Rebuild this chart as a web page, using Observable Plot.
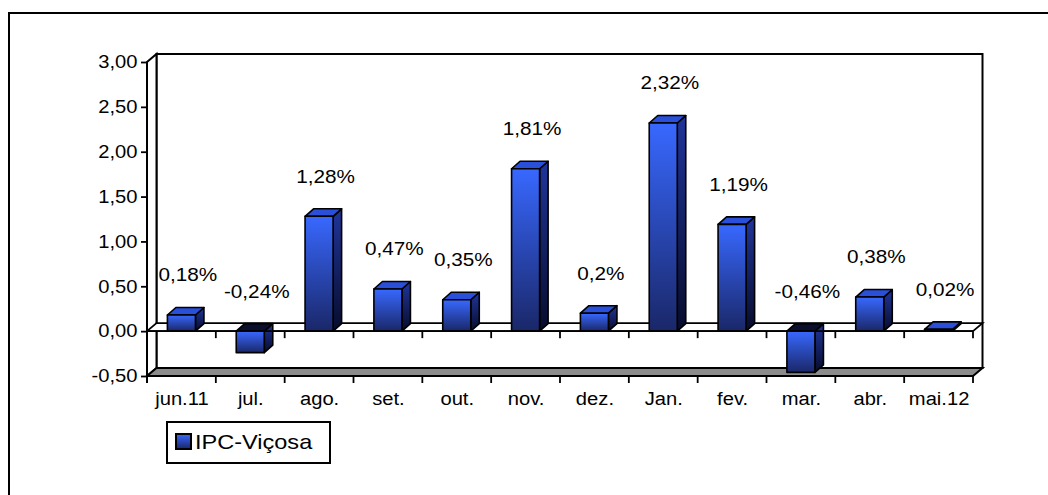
<!DOCTYPE html>
<html><head><meta charset="utf-8">
<script src="https://cdn.jsdelivr.net/npm/d3@7"></script>
<script src="https://cdn.jsdelivr.net/npm/@observablehq/plot@0.6"></script>
<style>
html,body{margin:0;padding:0;background:#fff;overflow:hidden;}
#wrap{position:relative;width:1048px;height:495px;overflow:hidden;font-family:Arial,"Liberation Sans",sans-serif;}
#frame{position:absolute;left:8px;top:12px;width:1100px;height:600px;border:2px solid #000;box-sizing:border-box;pointer-events:none;}
#chart{position:absolute;left:0;top:0;}
#legend{position:absolute;left:166px;top:421px;width:165px;height:43px;border:2px solid #000;box-sizing:border-box;background:#fff;}
#legend svg{position:absolute;left:7px;top:10px;}
#legend span{position:absolute;left:27px;top:7px;font-size:21px;line-height:24px;white-space:nowrap;transform:scaleX(1.12);transform-origin:0 50%;}
</style></head><body>
<div id="wrap"><div id="chart"></div><div id="legend"></div><div id="frame"></div></div>
<script>
const months = ["jun.11","jul.","ago.","set.","out.","nov.","dez.","Jan.","fev.","mar.","abr.","mai.12"];
const values = [0.18,-0.24,1.28,0.47,0.35,1.81,0.2,2.32,1.19,-0.46,0.38,0.02];
const valueLabels = ["0,18%","-0,24%","1,28%","0,47%","0,35%","1,81%","0,2%","2,32%","1,19%","-0,46%","0,38%","0,02%"];
const yTicks = [-0.5,0,0.5,1,1.5,2,2.5,3];
const yTickLabels = ["-0,50","0,00","0,50","1,00","1,50","2,00","2,50","3,00"];
const seriesName = "IPC-Viçosa";

const WALL = {dx: 9.5, dy: -8};
const BAR = {dx: 8.5, dy: -7.5, inset: 20.4};
const STRETCH = 1.12;

function grad(defs, id, stops) {
  const lg = defs.append("linearGradient").attr("id", id)
    .attr("x1", 0).attr("y1", 0).attr("x2", 0).attr("y2", 1);
  stops.forEach(([o, c]) => lg.append("stop").attr("offset", o).attr("stop-color", c));
}
const P = pts => pts.map(p => p.join(",")).join(" ");

function scene(index, scales) {
  const x = scales.x, y = scales.y;
  const bw = x.bandwidth();
  const xL = x(months[0]), xR = x(months[months.length - 1]) + bw;
  const yTop = y(yTicks[yTicks.length - 1]), yBot = y(yTicks[0]), y0 = y(0);
  const dx = WALL.dx, dy = WALL.dy;
  const g = d3.create("svg:g");
  const defs = g.append("defs");
  grad(defs, "gFront", [["0%", "#3868ff"], ["100%", "#1a2768"]]);
  grad(defs, "gSide", [["0%", "#20359a"], ["100%", "#070c2c"]]);
  // back wall
  g.append("rect").attr("x", xL + dx).attr("y", yTop + dy)
    .attr("width", xR - xL).attr("height", yBot - yTop)
    .attr("fill", "#fff").attr("stroke", "#000").attr("stroke-width", 2);
  // left wall
  g.append("polygon").attr("points", P([[xL, yTop], [xL + dx, yTop + dy], [xL + dx, yBot + dy], [xL, yBot]]))
    .attr("fill", "#fff").attr("stroke", "#000").attr("stroke-width", 2);
  // floor
  g.append("polygon").attr("points", P([[xL, yBot], [xL + dx, yBot + dy], [xR + dx, yBot + dy], [xR, yBot]]))
    .attr("fill", "#8c8c8c").attr("stroke", "#000").attr("stroke-width", 2);
  // zero plane
  g.append("polygon").attr("points", P([[xL, y0], [xL + dx, y0 + dy], [xR + dx, y0 + dy], [xR, y0]]))
    .attr("fill", "#fff").attr("stroke", "#000").attr("stroke-width", 1.8);
  // bars
  months.forEach((m, i) => {
    const v = values[i];
    const xa = x(m) + BAR.inset, xb = x(m) + bw - BAR.inset;
    const yv = y(v);
    const top = Math.min(y0, yv), bot = Math.max(y0, yv);
    const bdx = BAR.dx, bdy = BAR.dy;
    const bar = g.append("g").attr("stroke", "#000").attr("stroke-width", 1.6).attr("stroke-linejoin", "round");
    bar.append("polygon").attr("points", P([[xb, top], [xb + bdx, top + bdy], [xb + bdx, bot + bdy], [xb, bot]]))
      .attr("fill", "url(#gSide)");
    bar.append("polygon").attr("points", P([[xa, top], [xa + bdx, top + bdy], [xb + bdx, top + bdy], [xb, top]]))
      .attr("fill", v < 0 ? "#0a0f2e" : "#2a4fd8");
    if (bot - top > 0.5)
      bar.append("rect").attr("x", xa).attr("y", top).attr("width", xb - xa).attr("height", bot - top)
        .attr("fill", "url(#gFront)");
  });
  // axis lines and ticks
  const lines = g.append("g").attr("stroke", "#000").attr("stroke-width", 1.8);
  lines.append("line").attr("x1", xL).attr("x2", xL).attr("y1", yTop).attr("y2", yBot + 7);
  lines.append("line").attr("x1", xL).attr("x2", xR).attr("y1", y0).attr("y2", y0);
  const bounds = months.map(m => x(m)).concat([xR]);
  bounds.forEach((bx, k) => {
    if (k > 0) lines.append("line").attr("x1", bx).attr("x2", bx).attr("y1", y0).attr("y2", y0 + 7);
    lines.append("line").attr("x1", bx).attr("x2", bx).attr("y1", yBot).attr("y2", yBot + 7);
  });
  return g.node();
}

const chart = Plot.plot({
  width: 1048, height: 495,
  marginLeft: 147, marginRight: 75, marginTop: 62, marginBottom: 119,
  style: {fontFamily: "Arial, 'Liberation Sans', sans-serif", background: "transparent", color: "#000", overflow: "visible"},
  x: {type: "band", domain: months, padding: 0, round: false, label: null},
  y: {domain: [yTicks[0], yTicks[yTicks.length - 1]], label: null},
  marks: [
    scene,
    Plot.axisY({ticks: yTicks, tickFormat: d => yTickLabels[yTicks.indexOf(d)], tickSize: 6, tickPadding: 4,
      fontSize: 18, label: null, stroke: "#000", strokeWidth: 1.8}),
    Plot.axisX({tickSize: 0, tickPadding: 16, fontSize: 18, label: null}),
    Plot.text(months, {x: d => d, y: (d, i) => Math.max(0, values[i]), text: (d, i) => valueLabels[i],
      dy: -40, dx: 6, fontSize: 18.5, fill: "#000"})
  ]
});
document.getElementById("chart").appendChild(chart);
chart.querySelectorAll("text").forEach(t => {
  const w = t.getComputedTextLength();
  if (w > 0) { t.setAttribute("textLength", w * STRETCH); t.setAttribute("lengthAdjust", "spacingAndGlyphs"); }
});

// legend
const leg = d3.select("#legend");
const ls = leg.append("svg").attr("width", 18).attr("height", 18);
grad(ls.append("defs"), "gLeg", [["0%", "#3868ff"], ["100%", "#1a2768"]]);
ls.append("rect").attr("x", 1).attr("y", 1).attr("width", 15).attr("height", 15)
  .attr("fill", "url(#gLeg)").attr("stroke", "#000").attr("stroke-width", 2);
leg.append("span").text(seriesName);
</script>
</body></html>
